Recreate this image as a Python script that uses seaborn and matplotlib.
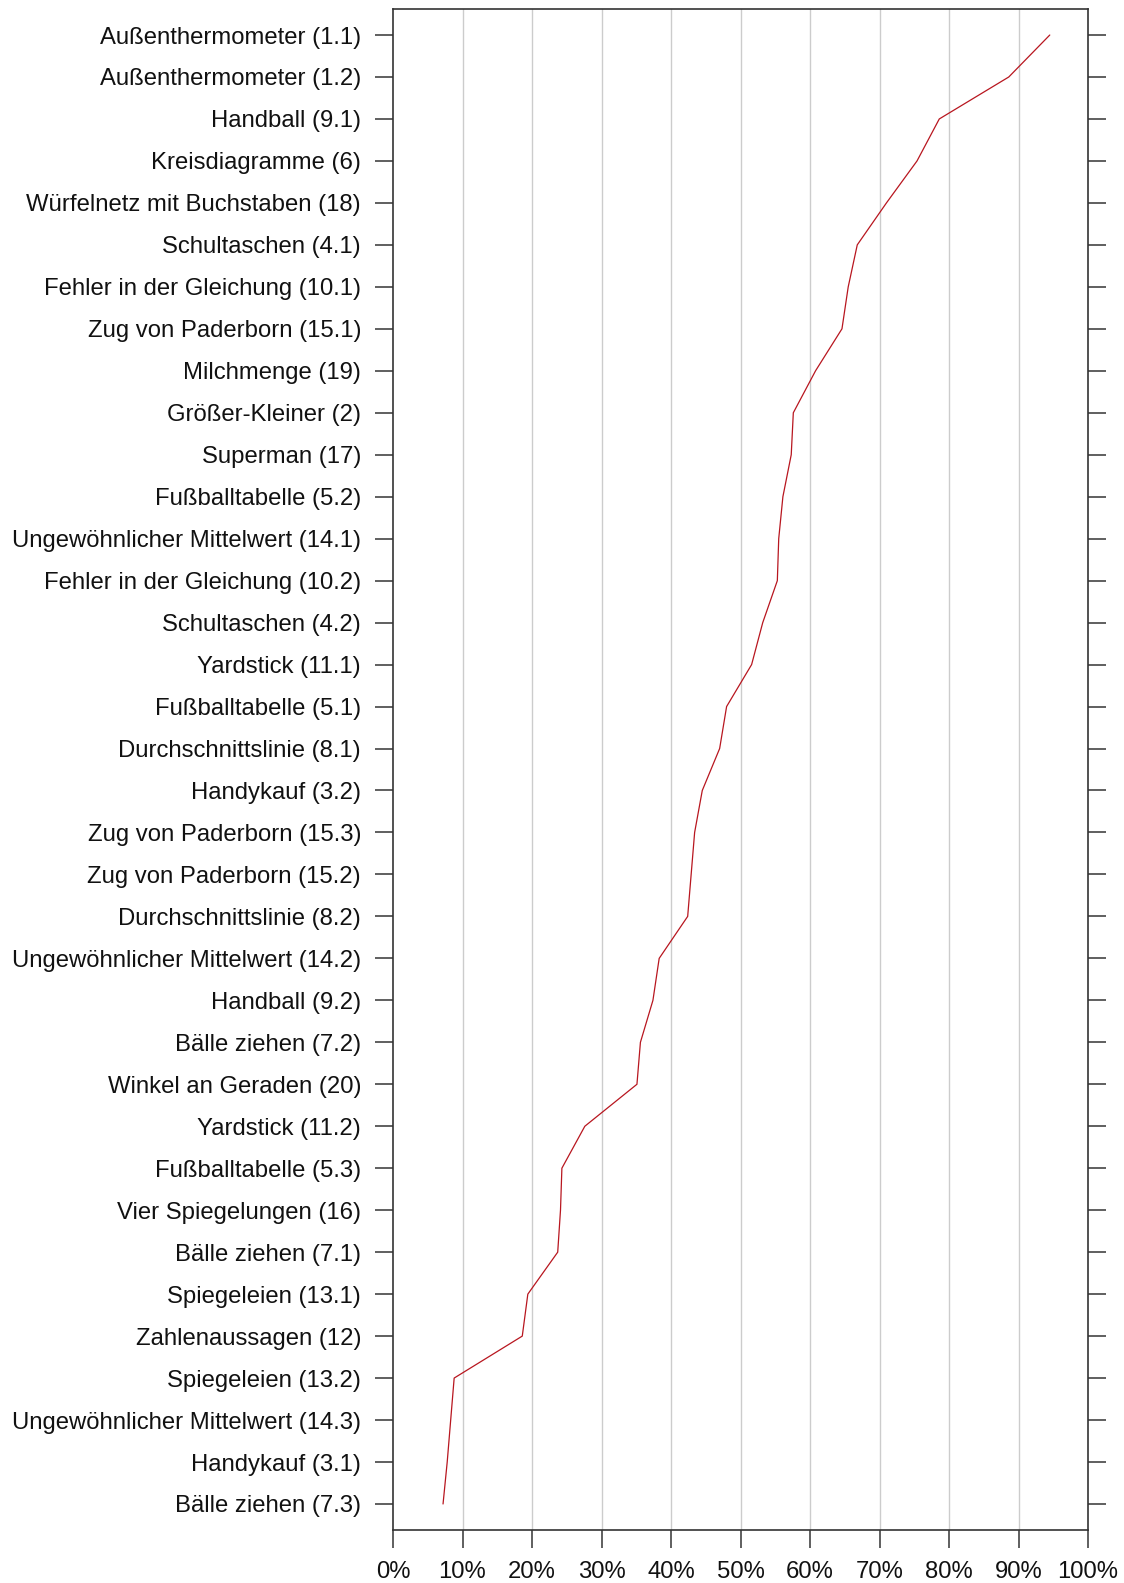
import matplotlib
matplotlib.use("Agg")
import matplotlib.pyplot as plt
import seaborn as sns
import numpy as np
import pandas as pd
from matplotlib.ticker import FuncFormatter

tasks = [
    "Außenthermometer (1.1)", "Außenthermometer (1.2)", "Handball (9.1)",
    "Kreisdiagramme (6)", "Würfelnetz mit Buchstaben (18)", "Schultaschen (4.1)",
    "Fehler in der Gleichung (10.1)", "Zug von Paderborn (15.1)", "Milchmenge (19)",
    "Größer-Kleiner (2)", "Superman (17)", "Fußballtabelle (5.2)",
    "Ungewöhnlicher Mittelwert (14.1)", "Fehler in der Gleichung (10.2)",
    "Schultaschen (4.2)", "Yardstick (11.1)", "Fußballtabelle (5.1)",
    "Durchschnittslinie (8.1)", "Handykauf (3.2)", "Zug von Paderborn (15.3)",
    "Zug von Paderborn (15.2)", "Durchschnittslinie (8.2)",
    "Ungewöhnlicher Mittelwert (14.2)", "Handball (9.2)", "Bälle ziehen (7.2)",
    "Winkel an Geraden (20)", "Yardstick (11.2)", "Fußballtabelle (5.3)",
    "Vier Spiegelungen (16)", "Bälle ziehen (7.1)", "Spiegeleien (13.1)",
    "Zahlenaussagen (12)", "Spiegeleien (13.2)", "Ungewöhnlicher Mittelwert (14.3)",
    "Handykauf (3.1)", "Bälle ziehen (7.3)",
]
solved = [
    94.5, 88.6, 78.6, 75.4, 71.0, 66.8, 65.5, 64.6, 60.8, 57.6,
    57.3, 56.1, 55.5, 55.3, 53.2, 51.6, 48.0, 47.0, 44.5, 43.4,
    42.9, 42.4, 38.3, 37.4, 35.6, 35.1, 27.6, 24.3, 24.1, 23.7,
    19.4, 18.6, 8.8, 8.3, 7.8, 7.2,
]
xticks = [0, 10, 20, 30, 40, 50, 60, 70, 80, 90, 100]

df = pd.DataFrame({"task": tasks, "solved": solved, "pos": np.arange(len(tasks))})

sns.set_style("white")
plt.rcParams['font.family'] = ['Liberation Sans', 'DejaVu Sans']

fig = plt.figure(figsize=(11.24, 15.83), dpi=100)
ax = fig.add_axes([393/1124, 1 - 1530/1583, (1088-393)/1124, (1530-9)/1583])

sns.lineplot(data=df, x="solved", y="pos", sort=False, orient="y",
             color="#b8161f", linewidth=0.9, ax=ax)

ax.set_xlim(0, 100)
ax.set_ylim(len(tasks) - 1 + 0.62, -0.62)
ax.set_xticks(xticks)
ax.xaxis.set_major_formatter(FuncFormatter(lambda v, p: f"{int(v)}%"))
ax.set_yticks(df["pos"])
ax.set_yticklabels(tasks)
ax.set_xlabel("")
ax.set_ylabel("")

for v in xticks[1:-1]:
    ax.axvline(v, color="#cccccc", linewidth=1.0, zorder=0)

for s in ax.spines.values():
    s.set_visible(True)
    s.set_color("#333333")
    s.set_linewidth(1.2)

ax.tick_params(axis="y", which="both", left=True, right=True, direction="out",
               length=13, width=1.2, color="#444444", labelsize=17.2, pad=10,
               labelcolor="#111111")
ax.tick_params(axis="x", which="both", bottom=True, direction="out",
               length=13, width=1.2, color="#444444", labelsize=17.2, pad=9,
               labelcolor="#111111")

fig.savefig("out.png", dpi=100, facecolor="white")
